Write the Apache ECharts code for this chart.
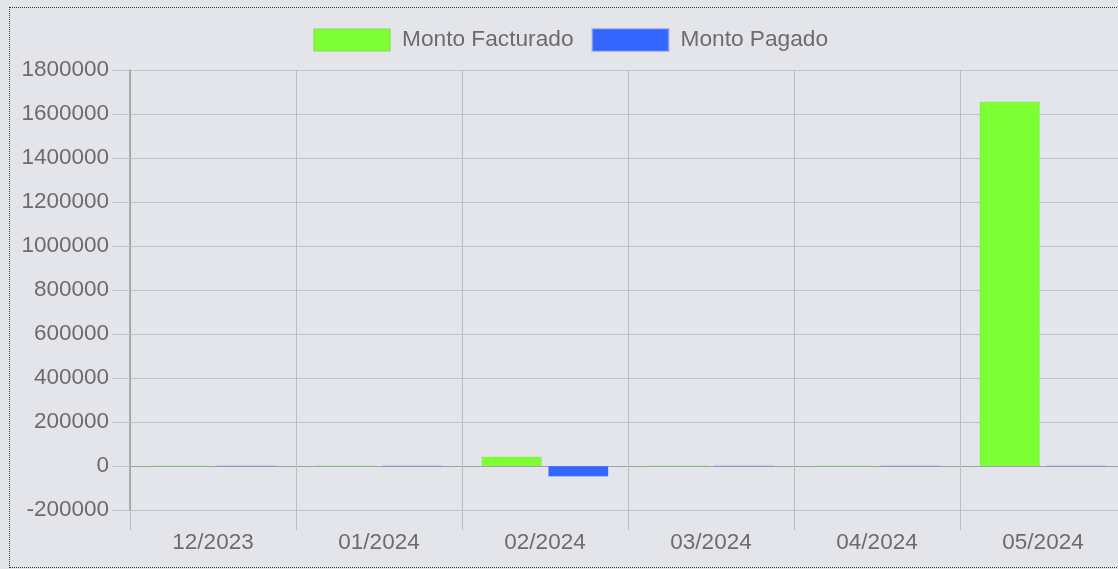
<!DOCTYPE html>
<html>
<head>
<meta charset="utf-8">
<script src="https://cdn.jsdelivr.net/npm/echarts@6/dist/echarts.min.js"></script>
<style>
  html, body { margin:0; padding:0; background:#e4e5ea; overflow:hidden; width:1118px; height:569px; }
  #frame { position:absolute; left:9px; top:7px; width:1200px; height:561px; border:1px dotted #333; box-sizing:border-box; }
  #chart { position:absolute; left:0; top:0; width:1160px; height:569px; }
</style>
</head>
<body>
<div id="frame"></div>
<div id="chart"></div>
<script>
const categories = ['12/2023','01/2024','02/2024','03/2024','04/2024','05/2024'];
const montoFacturado = [0, 0, 42000, 0, 0, 1656000];
const montoPagado = [0, 0, -48000, 0, 0, 0];
const seriesNames = ['Monto Facturado', 'Monto Pagado'];
const yMin = -200000, yMax = 1800000, yStep = 200000;

const gridColor = '#c3c4c9';
const splitColors = [];
for (let v = yMin; v <= yMax; v += yStep) splitColors.push(v === 0 ? '#a0a1a5' : gridColor);

const chart = echarts.init(document.getElementById('chart'), null, {renderer:'canvas'});
const font = '"Liberation Sans", Arial, Helvetica, sans-serif';
const textColor = '#6c6c6e';
chart.setOption({
  backgroundColor: 'transparent',
  animation: false,
  textStyle: { fontFamily: font },
  legend: {
    left: 313, top: 28, padding: 0,
    itemWidth: 76, itemHeight: 22, itemGap: 18,
    icon: 'rect',
    textStyle: { fontSize: 22.7, color: textColor, fontFamily: font, padding: [0,0,0,7] },
    data: seriesNames
  },
  grid: { left: 130, top: 70, width: 996, height: 440, containLabel: false },
  xAxis: {
    type: 'category',
    data: categories,
    boundaryGap: true,
    axisLine: { onZero: false, lineStyle: { color: gridColor } },
    axisTick: { show: true, length: 20, lineStyle: { color: '#bdbec3' } },
    splitLine: { show: true, lineStyle: { color: '#bdbec3' } },
    axisLabel: { fontSize: 22.5, color: textColor, margin: 21, fontFamily: font, interval: 0 }
  },
  yAxis: {
    type: 'value',
    min: yMin, max: yMax, interval: yStep,
    axisLine: { show: true, lineStyle: { color: '#9a9b9f', width: 1.5 } },
    axisTick: { show: true, length: 18, lineStyle: { color: gridColor } },
    splitLine: { show: true, lineStyle: { color: splitColors } },
    axisLabel: { fontSize: 22.5, color: textColor, margin: 21, fontFamily: font, formatter: v => String(v) }
  },
  series: [
    {
      name: seriesNames[0], type: 'bar', data: montoFacturado,
      barWidth: 60, barGap: '11%',
      itemStyle: { color: '#7cff33', borderColor: 'rgba(124,220,80,0.5)', borderWidth: 0.5 }
    },
    {
      name: seriesNames[1], type: 'bar', data: montoPagado,
      barWidth: 60,
      itemStyle: { color: '#3366ff', borderColor: 'rgba(110,140,230,0.5)', borderWidth: 0.5 }
    }
  ]
});
</script>
</body>
</html>
